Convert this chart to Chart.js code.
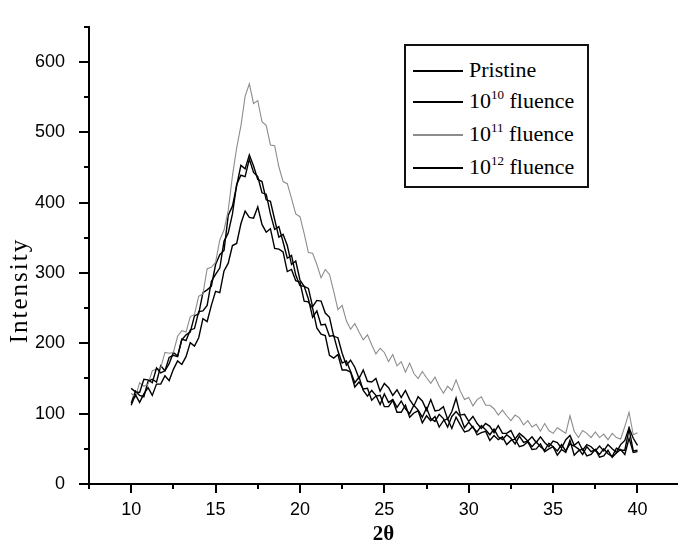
<!DOCTYPE html>
<html>
<head>
<meta charset="utf-8">
<script src="https://cdn.jsdelivr.net/npm/chart.js@4.4.1/dist/chart.umd.min.js"></script>
<style>
    body { margin: 0; background: #fff; }
    #wrap { position: relative; width: 678px; height: 543px; }
    #legenda {
        position: absolute; left: 404px; top: 44px; width: 185px; height: 144px;
        box-sizing: border-box; border: 2px solid #111; background: #fff;
        font-family: 'Liberation Serif', 'Times New Roman', serif; font-size: 22px; color: #000;
    }
    .linha { position: absolute; left: 0; height: 32px; width: 100%; }
    .linha i { position: absolute; left: 7px; top: 15px; width: 50px; height: 0; border-top: 2px solid #000; }
    .linha span { position: absolute; left: 63px; top: 2px; line-height: 26px; white-space: nowrap; }
    .linha sup { font-size: 13px; vertical-align: 9px; line-height: 0; }
</style>
</head>
<body>
<div id="wrap">
    <canvas id="chart-xrd" width="678" height="543"></canvas>
    <div id="legenda"></div>
</div>
<script>
// 2θ (graus), passo de 0,25
const THETA = [
    10, 10.25, 10.5, 10.75, 11, 11.25, 11.5, 11.75,
    12, 12.25, 12.5, 12.75, 13, 13.25, 13.5, 13.75,
    14, 14.25, 14.5, 14.75, 15, 15.25, 15.5, 15.75,
    16, 16.25, 16.5, 16.75, 17, 17.25, 17.5, 17.75,
    18, 18.25, 18.5, 18.75, 19, 19.25, 19.5, 19.75,
    20, 20.25, 20.5, 20.75, 21, 21.25, 21.5, 21.75,
    22, 22.25, 22.5, 22.75, 23, 23.25, 23.5, 23.75,
    24, 24.25, 24.5, 24.75, 25, 25.25, 25.5, 25.75,
    26, 26.25, 26.5, 26.75, 27, 27.25, 27.5, 27.75,
    28, 28.25, 28.5, 28.75, 29, 29.25, 29.5, 29.75,
    30, 30.25, 30.5, 30.75, 31, 31.25, 31.5, 31.75,
    32, 32.25, 32.5, 32.75, 33, 33.25, 33.5, 33.75,
    34, 34.25, 34.5, 34.75, 35, 35.25, 35.5, 35.75,
    36, 36.25, 36.5, 36.75, 37, 37.25, 37.5, 37.75,
    38, 38.25, 38.5, 38.75, 39, 39.25, 39.5, 39.75,
    40
];

const PRISTINE = [
    112, 127, 116, 128, 137, 126, 142, 142,
    154, 147, 163, 175, 170, 181, 201, 196,
    208, 235, 231, 254, 274, 272, 303, 314,
    339, 342, 370, 388, 379, 378, 394, 369,
    358, 363, 335, 334, 330, 302, 305, 289,
    287, 260, 259, 250, 222, 213, 211, 183,
    179, 184, 162, 162, 159, 138, 145, 135,
    136, 119, 125, 126, 110, 110, 119, 102,
    102, 112, 95, 101, 104, 87, 97, 90,
    96, 81, 90, 93, 79, 95, 84, 74,
    76, 82, 70, 73, 75, 62, 69, 63,
    67, 56, 62, 64, 53, 55, 60, 49,
    50, 57, 46, 50, 53, 41, 49, 45,
    62, 41, 47, 50, 40, 42, 49, 38,
    40, 48, 38, 44, 49, 42, 65, 45,
    46
];

const FLUENCIA_1E10 = [
    136, 131, 130, 149, 148, 144, 165, 158,
    161, 180, 183, 181, 206, 204, 219, 221,
    245, 246, 254, 288, 298, 307, 345, 357,
    384, 426, 439, 437, 462, 443, 437, 414,
    412, 384, 362, 366, 344, 321, 325, 297,
    282, 281, 263, 237, 246, 226, 227, 210,
    211, 189, 172, 175, 160, 144, 152, 133,
    125, 133, 126, 113, 128, 116, 120, 109,
    118, 107, 100, 112, 105, 95, 108, 93,
    89, 99, 93, 81, 96, 103, 96, 80,
    88, 80, 74, 83, 77, 70, 78, 67,
    63, 70, 65, 57, 68, 59, 61, 53,
    60, 53, 48, 58, 53, 47, 56, 47,
    57, 54, 50, 42, 53, 46, 49, 42,
    50, 43, 39, 51, 48, 48, 78, 47,
    48
];

const FLUENCIA_1E11 = [
    129, 123, 144, 139, 142, 161, 163, 165,
    187, 186, 187, 210, 218, 216, 238, 241,
    267, 270, 306, 308, 315, 347, 361, 389,
    438, 478, 509, 551, 569, 541, 545, 515,
    510, 482, 481, 451, 430, 427, 406, 384,
    380, 356, 329, 328, 312, 293, 305, 298,
    274, 248, 254, 232, 220, 228, 216, 205,
    212, 198, 185, 193, 187, 174, 184, 168,
    174, 159, 172, 157, 150, 160, 151, 143,
    152, 139, 129, 139, 133, 148, 132, 120,
    123, 111, 120, 124, 112, 112, 107, 98,
    105, 97, 90, 98, 94, 84, 90, 81,
    85, 75, 86, 76, 72, 80, 76, 72,
    97, 75, 66, 76, 72, 66, 74, 66,
    71, 63, 72, 66, 64, 82, 102, 70,
    73
];

const FLUENCIA_1E12 = [
    115, 132, 126, 124, 146, 149, 145, 168,
    161, 171, 187, 182, 205, 212, 216, 239,
    242, 272, 276, 281, 312, 326, 332, 382,
    395, 424, 453, 448, 468, 452, 433, 430,
    404, 402, 376, 351, 355, 339, 312, 317,
    290, 281, 278, 252, 261, 260, 243, 237,
    210, 208, 186, 169, 176, 166, 150, 162,
    146, 145, 150, 132, 143, 137, 126, 134,
    123, 133, 120, 111, 124, 118, 105, 120,
    104, 105, 110, 92, 103, 122, 98, 99,
    89, 96, 86, 79, 86, 82, 73, 83,
    72, 72, 76, 64, 72, 67, 61, 67,
    59, 67, 59, 53, 61, 59, 51, 63,
    69, 55, 60, 48, 56, 53, 47, 54,
    47, 56, 50, 45, 56, 62, 80, 65,
    55
];

const X_MAIORES = [10, 15, 20, 25, 30, 35, 40];
const X_MENORES = [7.5, 12.5, 17.5, 22.5, 27.5, 32.5, 37.5];
const Y_MAIORES = [0, 100, 200, 300, 400, 500, 600];
const Y_MENORES = [50, 150, 250, 350, 450, 550, 650];

const SERIES = [
    { nome: 'Pristine', sup: '', resto: '', dados: PRISTINE, cor: '#000000', largura: 1.4 },
    { nome: '10', sup: '10', resto: ' fluence', dados: FLUENCIA_1E10, cor: '#000000', largura: 1.4 },
    { nome: '10', sup: '11', resto: ' fluence', dados: FLUENCIA_1E11, cor: '#8c8c8c', largura: 1.1 },
    { nome: '10', sup: '12', resto: ' fluence', dados: FLUENCIA_1E12, cor: '#000000', largura: 1.4 }
];

// marcas de escala (maiores e menores) para fora dos eixos + título do eixo y
const marcasEixos = {
    id: 'marcasEixos',
    afterDraw(chart) {
        const { ctx, chartArea, scales: { x, y } } = chart;
        ctx.save();
        ctx.strokeStyle = '#000';
        ctx.lineWidth = 2;
        ctx.beginPath();
        X_MAIORES.concat(X_MENORES).forEach(v => {
            const px = Math.round(x.getPixelForValue(v));
            const len = X_MAIORES.includes(v) ? 9 : 5;
            ctx.moveTo(px, chartArea.bottom);
            ctx.lineTo(px, chartArea.bottom + len);
        });
        Y_MAIORES.concat(Y_MENORES).forEach(v => {
            const py = Math.round(y.getPixelForValue(v));
            const len = Y_MAIORES.includes(v) ? 10 : 5;
            ctx.moveTo(chartArea.left, py);
            ctx.lineTo(chartArea.left - len, py);
        });
        ctx.stroke();

        // "Intensity" um pouco abaixo do centro, como no original
        ctx.translate(20, y.getPixelForValue(275));
        ctx.rotate(-Math.PI / 2);
        ctx.font = "25px 'Liberation Serif', 'Times New Roman', serif";
        if ('letterSpacing' in ctx) ctx.letterSpacing = '2px';
        ctx.fillStyle = '#000';
        ctx.textAlign = 'center';
        ctx.textBaseline = 'middle';
        ctx.fillText('Intensity', 0, 0);
        ctx.restore();
    }
};

const ctx = document.getElementById('chart-xrd');

new Chart(ctx, {
    type: 'line',
    data: {
        datasets: SERIES.map(s => ({
            label: s.nome + s.sup + s.resto,
            data: THETA.map((t, i) => ({ x: t, y: s.dados[i] })),
            borderColor: s.cor,
            borderWidth: s.largura,
            pointRadius: 0,
            tension: 0,
            fill: false
        }))
    },
    options: {
        responsive: false,
        animation: false,
        layout: { padding: { top: 15, right: 0, left: 0, bottom: 0 } },
        plugins: {
            legend: { display: false },
            tooltip: { enabled: false }
        },
        scales: {
            x: {
                type: 'linear',
                min: 7.5,
                max: 42.4,
                afterBuildTicks: (scale) => { scale.ticks = X_MAIORES.map(v => ({ value: v })); },
                afterFit: (scale) => { scale.height = 59; },
                grid: { display: false },
                border: { display: true, color: '#000', width: 2 },
                ticks: {
                    color: '#000',
                    padding: 7,
                    maxRotation: 0,
                    font: { family: "'Liberation Sans', Arial, sans-serif", size: 18 }
                },
                title: {
                    display: true,
                    text: '2θ',
                    color: '#000',
                    padding: { top: 0, bottom: -4 },
                    font: { family: "'Liberation Serif', 'Times New Roman', serif", size: 21, weight: 'bold' }
                }
            },
            y: {
                min: 0,
                max: 650,
                afterBuildTicks: (scale) => { scale.ticks = Y_MAIORES.map(v => ({ value: v })); },
                afterFit: (scale) => { scale.width = 89; },
                grid: { display: false },
                border: { display: true, color: '#000', width: 2 },
                ticks: {
                    color: '#000',
                    padding: 16,
                    font: { family: "'Liberation Sans', Arial, sans-serif", size: 18 }
                },
                title: { display: false }
            }
        }
    },
    plugins: [marcasEixos]
});

// legenda em HTML (com expoentes)
const legenda = document.getElementById('legenda');
const centros = [25, 56, 89, 122];
SERIES.forEach((s, i) => {
    const linha = document.createElement('div');
    linha.className = 'linha';
    linha.style.top = (centros[i] - 16) + 'px';
    const traco = document.createElement('i');
    traco.style.borderTopColor = s.cor;
    const texto = document.createElement('span');
    texto.innerHTML = s.sup ? `${s.nome}<sup>${s.sup}</sup>${s.resto}` : s.nome;
    linha.appendChild(traco);
    linha.appendChild(texto);
    legenda.appendChild(linha);
});
</script>
</body>
</html>
